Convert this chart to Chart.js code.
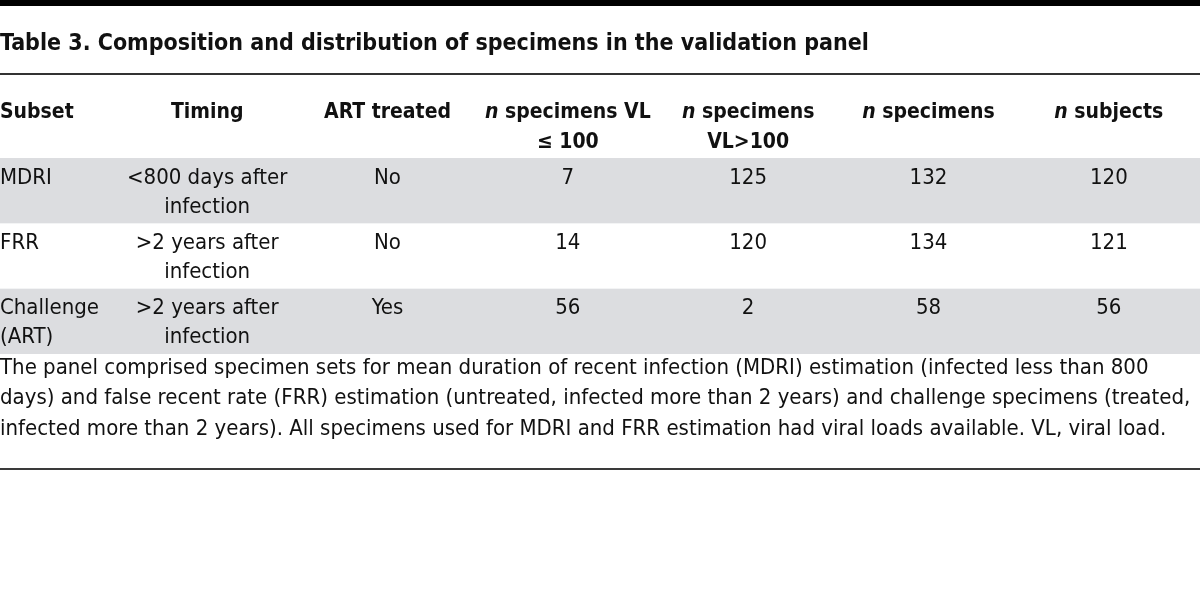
<!DOCTYPE html>
<html>
<head>
<meta charset="utf-8">
<script src="https://cdn.jsdelivr.net/npm/chart.js@4.4.1/dist/chart.umd.min.js"></script>
<style>
  html, body { margin: 0; padding: 0; background: #fff; }
  canvas { display: block; }
</style>
</head>
<body>
<canvas id="tableChart" width="1200" height="596"></canvas>
<script>
// Dados da tabela
const title = 'Table 3. Composition and distribution of specimens in the validation panel';
const subsets = ['MDRI', 'FRR', 'Challenge (ART)'];
const subsetLines = [['MDRI'], ['FRR'], ['Challenge', '(ART)']];
const columns = ['Timing', 'ART treated', 'VL<=100', 'VL>100', 'Specimens', 'Subjects'];
const headerLines = [
  ['Timing'],
  ['ART treated'],
  ['n specimens VL', '≤ 100'],
  ['n specimens', 'VL>100'],
  ['n specimens'],
  ['n subjects']
];
const timing = [['<800 days after', 'infection'], ['>2 years after', 'infection'], ['>2 years after', 'infection']];
const artTreated = ['No', 'No', 'Yes'];
const vlLow = [7, 14, 56];
const vlHigh = [125, 120, 2];
const nSpecimens = [132, 134, 58];
const nSubjects = [120, 121, 56];
const notes = [
  'The panel comprised specimen sets for mean duration of recent infection (MDRI) estimation (infected less than 800',
  'days) and false recent rate (FRR) estimation (untreated, infected more than 2 years) and challenge specimens (treated,',
  'infected more than 2 years). All specimens used for MDRI and FRR estimation had viral loads available. VL, viral load.'
];

const cellValues = [timing, artTreated, vlLow, vlHigh, nSpecimens, nSubjects];

const FAMILY = '"DejaVu Sans Condensed", "DejaVu Sans", sans-serif';
const TEXT = '#111';
const BAND = '#dcdde0';
const LINE_H = 29;

function setFont(ctx, style) {
  ctx.font = style + ' ' + FAMILY;
  try { ctx.fontStretch = 'condensed'; } catch (e) {}
}

// desenha "n" em itálico seguido do resto em negrito
function drawHeaderText(ctx, text, x, y, align) {
  let parts = [];
  if (text.startsWith('n ')) {
    parts.push(['italic bold 21px', 'n']);
    parts.push(['bold 21px', text.slice(1)]);
  } else {
    parts.push(['bold 21px', text]);
  }
  let total = 0;
  parts.forEach(p => { setFont(ctx, p[0]); total += ctx.measureText(p[1]).width; });
  let cx = align === 'left' ? x : x - total / 2;
  ctx.textAlign = 'left';
  parts.forEach(p => {
    setFont(ctx, p[0]);
    ctx.fillText(p[1], cx, y);
    cx += ctx.measureText(p[1]).width;
  });
}

const tablePlugin = {
  id: 'tablePlugin',
  beforeDatasetsDraw(chart) {
    const ctx = chart.ctx;
    const y = chart.scales.y;
    const h = y.getPixelForValue(1) - y.getPixelForValue(0);
    ctx.save();
    ctx.fillStyle = '#fff';
    ctx.fillRect(0, 0, chart.width, chart.height);
    subsets.forEach((s, i) => {
      if (i % 2 === 0) {
        const c = y.getPixelForValue(i);
        ctx.fillStyle = BAND;
        ctx.fillRect(0, c - h / 2, chart.width, h);
      }
    });
    ctx.restore();
  },
  afterDatasetsDraw(chart) {
    const ctx = chart.ctx;
    const x = chart.scales.x;
    const y = chart.scales.y;
    const area = chart.chartArea;
    ctx.save();
    ctx.textBaseline = 'middle';

    // barra superior e título
    ctx.fillStyle = '#000';
    ctx.fillRect(0, 0, chart.width, 6);
    ctx.fillStyle = TEXT;
    setFont(ctx, 'bold 23px');
    ctx.textAlign = 'left';
    ctx.fillText(title, 0, 44);
    ctx.fillStyle = '#333';
    ctx.fillRect(0, 73, chart.width, 2);

    // cabeçalho
    ctx.fillStyle = TEXT;
    const headTop = area.top - 45;
    drawHeaderText(ctx, 'Subset', 0, headTop, 'left');
    headerLines.forEach((lines, j) => {
      const cx = x.getPixelForValue(j);
      lines.forEach((t, k) => drawHeaderText(ctx, t, cx, headTop + k * 30, 'center'));
    });

    // células
    const h = y.getPixelForValue(1) - y.getPixelForValue(0);
    setFont(ctx, '22px');
    chart.data.datasets.forEach((ds, j) => {
      const meta = chart.getDatasetMeta(j);
      meta.data.forEach((pt, i) => {
        let v = ds.cellText[i];
        const lines = Array.isArray(v) ? v : [String(v)];
        const top = pt.y - h / 2 + 20;
        ctx.textAlign = 'center';
        lines.forEach((t, k) => ctx.fillText(t, pt.x, top + k * LINE_H));
      });
    });
    // coluna Subset, alinhada à esquerda
    subsets.forEach((s, i) => {
      const top = y.getPixelForValue(i) - h / 2 + 20;
      ctx.textAlign = 'left';
      subsetLines[i].forEach((t, k) => ctx.fillText(t, 0, top + k * LINE_H));
    });

    // notas de rodapé
    const noteTop = area.bottom + 14;
    notes.forEach((t, k) => ctx.fillText(t, 0, noteTop + k * 30.5));
    ctx.fillStyle = '#3a3a3a';
    ctx.fillRect(0, 468, chart.width, 2);
    ctx.restore();
  }
};

const datasets = columns.map((col, j) => ({
  label: col,
  data: subsets.map(s => ({ x: col, y: s })),
  cellText: cellValues[j],
  pointRadius: 0,
  pointHoverRadius: 0
}));

const ctx = document.getElementById('tableChart').getContext('2d');
const tableChart = new Chart(ctx, {
  type: 'scatter',
  data: { datasets: datasets },
  options: {
    responsive: false,
    animation: false,
    devicePixelRatio: 1,
    layout: { padding: { left: 117, right: 1, top: 158, bottom: 242 } },
    plugins: { legend: { display: false }, tooltip: { enabled: false }, title: { display: false } },
    scales: {
      x: { type: 'category', labels: columns, offset: true, display: false },
      y: { type: 'category', labels: subsets, offset: true, display: false }
    }
  },
  plugins: [tablePlugin]
});
</script>
</body>
</html>
